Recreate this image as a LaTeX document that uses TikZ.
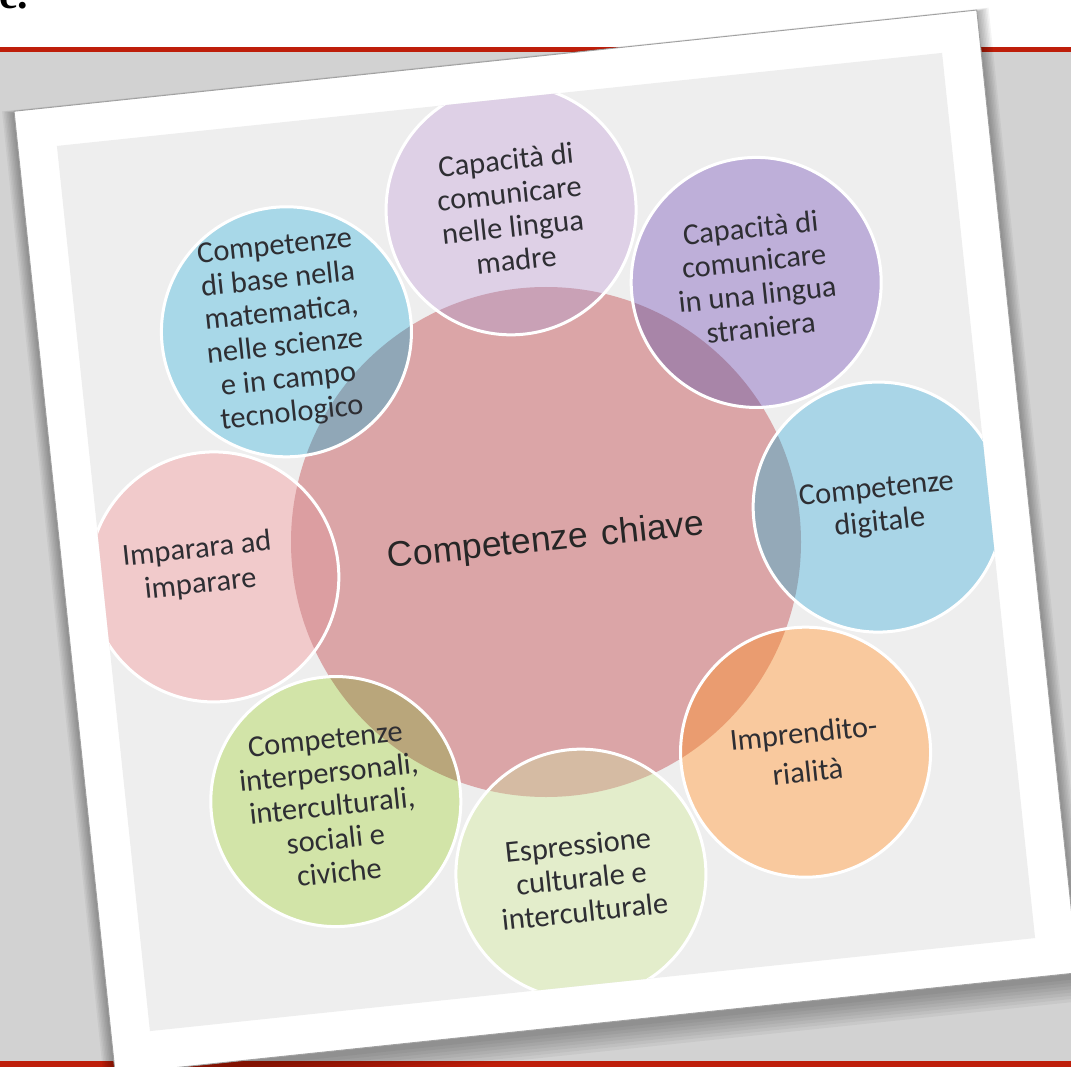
\documentclass[tikz,border=0pt]{standalone}
\usepackage{fontspec}
\setmainfont{Carlito}
\newfontfamily\arialf{Liberation Sans}
\newfontfamily\timesf{Liberation Serif}
\definecolor{bgtex}{HTML}{D2D2D2}
\definecolor{redline}{RGB}{190,30,10}
\definecolor{framegray}{HTML}{A0A0A0}
\definecolor{innergrey}{HTML}{EEEEEE}
\definecolor{ccentral}{HTML}{DBA5A7}
\definecolor{fa}{HTML}{DED0E6}\definecolor{oa}{HTML}{C9A1B6}
\definecolor{fb}{HTML}{BEAFD9}\definecolor{ob}{HTML}{A885A8}
\definecolor{fc}{HTML}{A9D5E7}\definecolor{oc}{HTML}{94A9B8}
\definecolor{fd}{HTML}{F9C99E}\definecolor{od}{HTML}{EA9C70}
\definecolor{fe}{HTML}{E3EDCB}\definecolor{oe}{HTML}{D5BBA3}
\definecolor{ff}{HTML}{D2E4A8}\definecolor{of}{HTML}{B9A67B}
\definecolor{fg}{HTML}{F1CACB}\definecolor{og}{HTML}{DC9EA1}
\definecolor{fh}{HTML}{A8D8E8}\definecolor{oh}{HTML}{90A7B7}
\definecolor{labelcol}{HTML}{2E2E33}
\tikzset{
  sat/.style={circle, minimum size=250, inner sep=0, fill=#1},
  ov/.style={path picture={\fill[#1] (c.center) circle (255);}},
  ring/.style={draw=white, line width=3},
  lbl/.style={font=\fontsize{30.5}{33.5}\selectfont, text=labelcol, align=center, transform shape, inner sep=0},
  ctext/.style={font=\arialf\fontsize{35.5}{40}\selectfont, text=black!85, transform shape, inner sep=0}
}
\begin{document}
\begin{tikzpicture}[x=1pt,y=1pt]
\useasboundingbox (0,0) rectangle (1071,-1067);
\fill[white] (0,0) rectangle (1071,-1067);
\fill[bgtex] (0,-52) rectangle (1071,-1061);
\fill[redline] (0,-47) rectangle (1071,-52);
\fill[redline] (0,-1061) rectangle (1071,-1067);
\node[font=\timesf\bfseries\fontsize{42}{42}\selectfont, anchor=base west, inner sep=0] (title) at (-1,-9) {e.};
\begin{scope}[shift={(546,-542)}, rotate=6]
  % shadow
  \foreach \i in {1,...,8}
    \fill[black, opacity=0.045] (-484-\i*1.5,-484-3-\i*3.2) rectangle (484+\i*1.5,484-2+\i*0.4);
  % photo frame
  \fill[white] (-484,-484) rectangle (484,484);
  \draw[framegray, line width=0.9] (-484,-484) rectangle (484,484);
  \fill[innergrey] (-445,-445) rectangle (445,445);
  \begin{scope}
    \clip (-445,-445) rectangle (445,445);
    \node[circle, minimum size=510, inner sep=0, fill=ccentral] (c) at (0,0) {};
    \node[sat=fa, ov=oa] (s1) at (90:334) {};
    \node[sat=fb, ov=ob] (s2) at (45:334) {};
    \node[sat=fc, ov=oc] (s3) at (0:334) {};
    \node[sat=fd, ov=od] (s4) at (-45:334) {};
    \node[sat=fe, ov=oe] (s5) at (-90:334) {};
    \node[sat=ff, ov=of] (s6) at (-135:334) {};
    \node[sat=fg, ov=og] (s7) at (180:334) {};
    \node[sat=fh, ov=oh] (s8) at (135:334) {};
    \foreach \s in {s1,s2,s3,s4,s5,s6,s7,s8}
      \draw[ring] (\s.center) circle (125);
  \end{scope}
  \node[ctext] (ct) at (c.center) {Competenze\hspace{14pt}chiave};
  \node[lbl] (t1) at (s1.center) {Capacità di\\comunicare\\nelle lingua\\madre};
  \node[lbl] (t2) at ([shift={(0,5)}]s2.center) {Capacità di\\comunicare\\in una lingua\\straniera};
  \node[lbl] (t3) at (s3.center) {Competenze\\digitale};
  \node[lbl, font=\fontsize{30.5}{39}\selectfont] (t4) at (s4.center) {Imprendito-\\rialità};
  \node[lbl] (t5) at ([shift={(0,-4)}]s5.center) {Espressione\\culturale e\\interculturale};
  \node[lbl] (t6) at ([shift={(-4,-4)}]s6.center) {Competenze\\interpersonali,\\interculturali,\\sociali e\\civiche};
  \node[lbl, font=\fontsize{30.5}{35}\selectfont] (t7) at ([shift={(-14,11)}]s7.center) {Imparara ad\\imparare};
  \node[lbl] (t8) at ([shift={(-3,1)}]s8.center) {Competenze\\di base nella\\matematica,\\nelle scienze\\e in campo\\tecnologico};
\end{scope}
\end{tikzpicture}
\end{document}
